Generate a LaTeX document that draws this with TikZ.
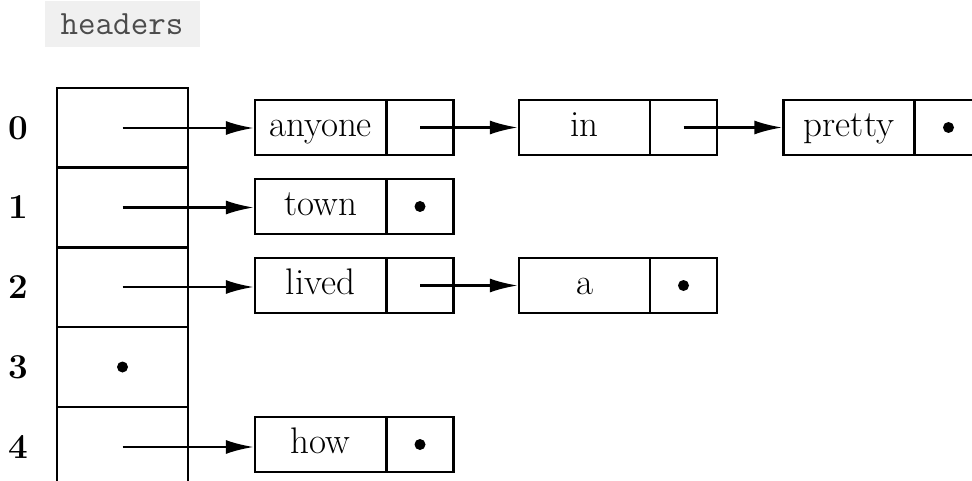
\documentclass[tikz,border=0pt]{standalone}
\usetikzlibrary{arrows.meta}
\begin{document}
\begin{tikzpicture}[x=1pt,y=-1pt,
  line width=2.4pt,
  every node/.style={font=\fontsize{37}{44}\selectfont, inner sep=0pt},
  cell/.style={draw, minimum width=131pt, minimum height=80pt},
  txtcell/.style={draw, minimum width=131pt, minimum height=55pt,
    text height=25pt, text depth=7pt},
  ptrcell/.style={draw, minimum width=67pt, minimum height=55pt},
  idx/.style={font=\bfseries\fontsize{35}{42}\selectfont},
  arr/.style={-{Latex[length=28pt,width=14pt]}},
  nil/.style={circle, fill, minimum size=11pt}]
\useasboundingbox (0,0) rectangle (972,481);
% header label
\node[fill=gray!12, text=black!70, minimum width=155pt, minimum height=46pt,
  font=\ttfamily\fontsize{34}{40}\selectfont] (hdr) at (122,24) {headers};
% table
\foreach \i/\y in {0/128,1/207.5,2/287,3/367,4/447}{
  \node[cell] (c\i) at (122.5,\y) {};
  \node[idx] (i\i) at (18,\y) {\i};
}
\node[nil] (n3) at (c3.center) {};
% row 0
\node[txtcell] (t0a) at (320.5,127.5) {anyone};
\node[ptrcell] (p0a) at (420,127.5) {};
\node[txtcell] (t0b) at (584.5,127.5) {in};
\node[ptrcell] (p0b) at (683.5,127.5) {};
\node[txtcell] (t0c) at (849,127.5) {pretty};
\node[ptrcell] (p0c) at (948.5,127.5) {};
\node[nil] (n0c) at (p0c.center) {};
% row 1
\node[txtcell] (t1a) at (320.5,206.5) {town};
\node[ptrcell] (p1a) at (420,206.5) {};
\node[nil] (n1a) at (p1a.center) {};
% row 2
\node[txtcell] (t2a) at (320.5,285.5) {lived};
\node[ptrcell] (p2a) at (420,285.5) {};
\node[txtcell] (t2b) at (584.5,285.5) {a};
\node[ptrcell] (p2b) at (683.5,285.5) {};
\node[nil] (n2b) at (p2b.center) {};
% row 4
\node[txtcell] (t4a) at (320.5,444.5) {how};
\node[ptrcell] (p4a) at (420,444.5) {};
\node[nil] (n4a) at (p4a.center) {};
% arrows
\draw[arr] (c0.center) -- (c0.center -| t0a.west);
\draw[arr] (p0a.center) -- (t0b.west);
\draw[arr] (p0b.center) -- (t0c.west);
\draw[arr] (c1.center) -- (c1.center -| t1a.west);
\draw[arr] (c2.center) -- (c2.center -| t2a.west);
\draw[arr] (p2a.center) -- (t2b.west);
\draw[arr] (c4.center) -- (c4.center -| t4a.west);
\end{tikzpicture}
\end{document}
